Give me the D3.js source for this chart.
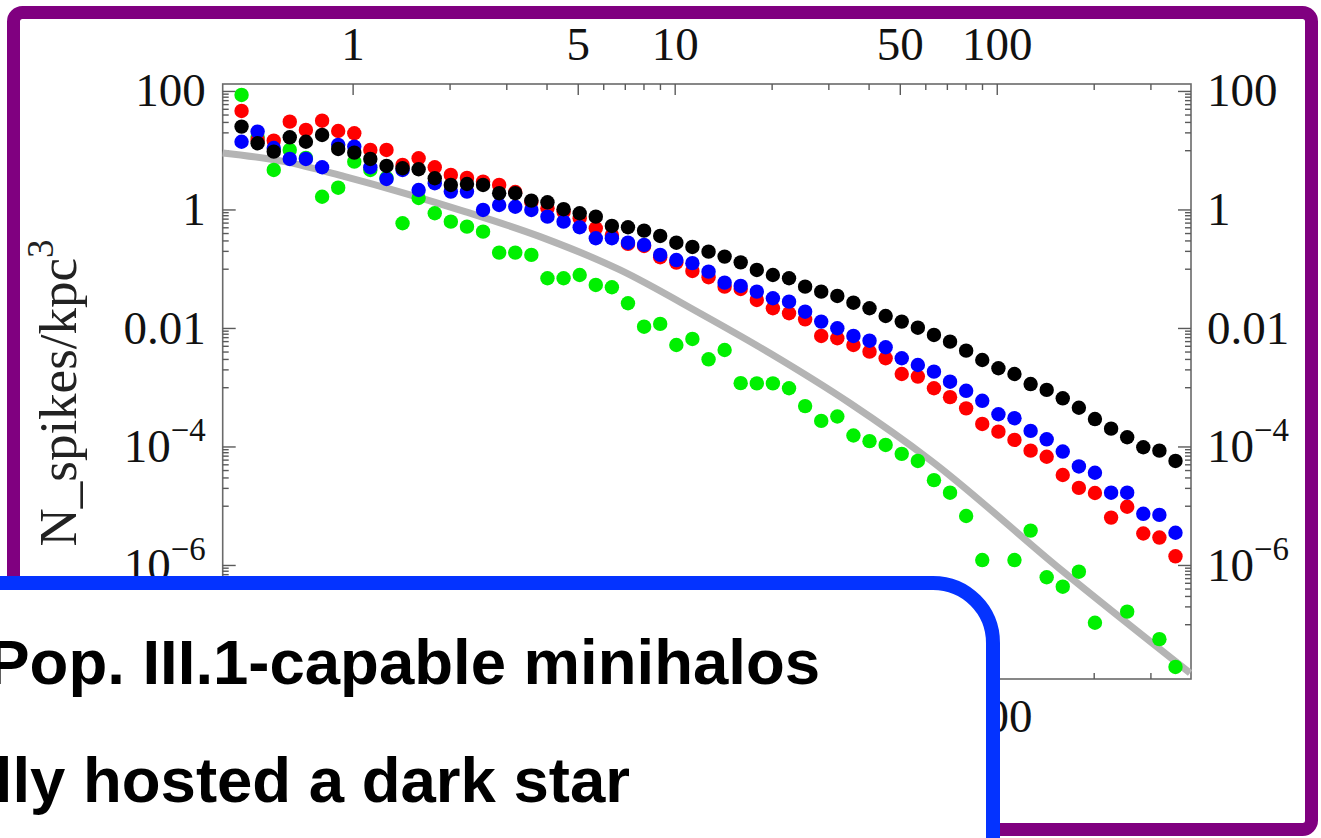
<!DOCTYPE html>
<html><head><meta charset="utf-8">
<script src="https://cdn.jsdelivr.net/npm/d3@7"></script>
<style>html,body{margin:0;padding:0;background:#fff;overflow:hidden}</style>
</head><body>
<svg id="c" width="1321" height="838"></svg>
<script>
// ---- data ----
const xValues = [0.452,0.507,0.569,0.638,0.716,0.804,0.902,1.012,1.135,1.274,1.429,1.603,1.799,2.018,2.265,2.541,2.851,3.199,3.589,4.027,4.519,5.070,5.689,6.383,7.161,8.035,9.016,10.12,11.35,12.74,14.29,16.03,17.99,20.18,22.65,25.41,28.51,31.99,35.89,40.27,45.19,50.70,56.89,63.83,71.61,80.35,90.16,101.2,113.5,127.4,142.9,160.3,179.9,201.8,226.5,254.1,285.1,319.9,358.9];
const blackSeries = [25.0,13.1,9.45,16.5,13.9,18.1,10.5,9.09,7.12,5.42,4.96,4.77,3.36,2.59,2.69,2.59,1.88,1.88,1.41,1.32,1.01,0.863,0.756,0.527,0.501,0.439,0.357,0.275,0.233,0.194,0.160,0.128,0.0953,0.0784,0.069,0.0498,0.041,0.0347,0.0267,0.0215,0.0159,0.0128,0.0101,0.00762,0.00587,0.00414,0.00288,0.00209,0.00167,0.00113,9.0e-4,6.5e-4,4.5e-4,2.9e-4,2.0e-4,1.43e-4,9.7e-5,8.5e-5,5.7e-5];
const redSeries = [46.0,14.9,14.5,30.3,22.0,31.5,21.1,19.3,10.1,10.1,5.64,7.31,5.15,3.82,3.40,2.95,2.59,1.97,1.34,1.05,0.918,0.710,0.482,0.371,0.262,0.242,0.156,0.127,0.0916,0.0717,0.0498,0.0455,0.0297,0.0215,0.0177,0.0140,0.00733,0.0067,0.00516,0.00398,0.00308,0.00167,0.00151,9.6e-4,6.8e-4,4.4e-4,2.4e-4,1.78e-4,1.29e-4,8.5e-5,6.7e-5,3.3e-5,2.0e-5,1.64e-5,6.3e-6,9.6e-6,3.4e-6,2.9e-6,1.40e-6];
const blueSeries = [13.9,20.6,10.9,7.12,7.12,5.15,12.3,11.5,5.15,3.27,4.64,2.13,2.77,2.0,2.0,0.981,1.19,1.11,0.981,0.756,0.622,0.501,0.327,0.327,0.275,0.252,0.171,0.140,0.124,0.0892,0.0582,0.0512,0.041,0.0317,0.0278,0.0188,0.0128,0.00988,0.00733,0.0061,0.00472,0.00308,0.00237,0.00183,0.00124,8.7e-4,5.9e-4,3.5e-4,3.0e-4,1.83e-4,1.32e-4,8.2e-5,4.6e-5,3.6e-5,1.66e-5,1.66e-5,7.3e-6,7.0e-6,3.5e-6];
const greenSeries = [85.6,16.7,4.64,10.1,7.4,1.64,2.33,6.41,4.64,3.40,0.585,1.56,0.863,0.622,0.513,0.422,0.187,0.187,0.171,0.069,0.069,0.0784,0.0532,0.0486,0.0261,0.0105,0.0117,0.00516,0.00652,0.00296,0.00425,0.00117,0.00116,0.00116,9.6e-4,4.8e-4,2.7e-4,3.2e-4,1.53e-4,1.23e-4,1.06e-4,7.5e-5,5.7e-5,2.7e-5,1.66e-5,6.7e-6,1.21e-6,null,1.21e-6,3.8e-6,6.2e-7,4.3e-7,7.7e-7,1.06e-7,null,1.63e-7,null,5.6e-8,1.9e-8];
const curveX = [0.395,0.616,0.946,1.453,2.233,3.817,6.763,11.98,19.77,35.03,62.1,157.2,398.4];
const curveY = [9.0,6.41,3.58,1.875,0.922,0.348,0.0953,0.0177,0.00374,5.36e-4,5.92e-5,8.55e-7,1.50e-8];
const xMajorTicks = [1,5,10,50,100];
const xMajorLabels = ["1","5","10","50","100"];
const xBottomLabelTicks = [100];          // the other bottom labels are hidden behind the callout
const xMinorTicks = [2,3,4,6,7,8,9,20,30,40,60,70,80,90,200,300];
const yMajorTicks = [100,1,0.01,1e-4,1e-6];
const yMajorLabels = [["100",null],["1",null],["0.01",null],["10","\u22124"],["10","\u22126"]];
const yTitle = ["N_spikes/kpc","3"];
const captionLines = ["Pop. III.1-capable minihalos","lly hosted a dark star"];

// ---- layout ----
const svg = d3.select("#c");
const L = 222.7, R = 1191, T = 84, B = 679;
const x = d3.scaleLog().domain([0.395, 401]).range([L, R]);
const y = d3.scaleLog().domain([1.19e-8, 131]).range([B, T]);
const serif = "'Liberation Serif','Times New Roman',serif";
const FS = 47;

// purple slide frame
svg.append("rect").attr("x",13.5).attr("y",12.5).attr("width",1298).attr("height",817)
  .attr("rx",9).attr("fill","#fff").attr("stroke","#800080").attr("stroke-width",13);

const g = svg.append("g");
g.append("rect").attr("x",L).attr("y",T).attr("width",R-L).attr("height",B-T)
  .attr("fill","none").attr("stroke","#6a6a6a").attr("stroke-width",1.6);

const yMinor = [];
yMajorTicks.forEach(m => { for (let j=1;j<=9;j++) { const v = j*m/10; if (v>=1.19e-8 && v<=131) yMinor.push(v); } });

function styleAxis(sel){
  sel.select(".domain").remove();
  sel.selectAll(".tick line").attr("stroke","#5a5a5a").attr("stroke-width",1.4);
  sel.selectAll("text").attr("font-family",serif).attr("font-size",FS).attr("fill","#111");
}
function yLabel(sel){
  sel.selectAll(".tick text").each(function(d){
    const i = yMajorTicks.indexOf(d); const lab = yMajorLabels[i];
    const t = d3.select(this); t.text(null);
    t.append("tspan").text(lab[0]);
    if (lab[1]) t.append("tspan").attr("dy",-21).attr("font-size",FS*0.7).text(lab[1]);
  });
}
const gl = g.append("g").attr("transform",`translate(${L},0)`)
  .call(d3.axisLeft(y).tickValues(yMajorTicks).tickSize(-13).tickPadding(17).tickFormat(()=>"x"));
styleAxis(gl); yLabel(gl);
g.append("g").attr("transform",`translate(${L},0)`)
  .call(d3.axisLeft(y).tickValues(yMinor).tickSize(-6).tickFormat("")).call(styleAxis);
const gr = g.append("g").attr("transform",`translate(${R},0)`)
  .call(d3.axisRight(y).tickValues(yMajorTicks).tickSize(-13).tickPadding(16).tickFormat(()=>"x"));
styleAxis(gr); yLabel(gr);
g.append("g").attr("transform",`translate(${R},0)`)
  .call(d3.axisRight(y).tickValues(yMinor).tickSize(-6).tickFormat("")).call(styleAxis);
const xf = d => xMajorLabels[xMajorTicks.indexOf(d)];
g.append("g").attr("transform",`translate(0,${T})`)
  .call(d3.axisTop(x).tickValues(xMajorTicks).tickSize(-11).tickPadding(24).tickFormat(xf)).call(styleAxis);
g.append("g").attr("transform",`translate(0,${T})`)
  .call(d3.axisTop(x).tickValues(xMinorTicks).tickSize(-6).tickFormat("")).call(styleAxis);
g.append("g").attr("transform",`translate(0,${B})`)
  .call(d3.axisBottom(x).tickValues(xMajorTicks).tickSize(-11).tickPadding(20)
    .tickFormat(d => xBottomLabelTicks.includes(d) ? xf(d) : "")).call(styleAxis);
g.append("g").attr("transform",`translate(0,${B})`)
  .call(d3.axisBottom(x).tickValues(xMinorTicks).tickSize(-6).tickFormat("")).call(styleAxis);

// y title
const yt = g.append("text").attr("transform",`translate(76,393) rotate(-90)`)
  .attr("text-anchor","middle").attr("font-family",serif).attr("font-size",53).attr("fill","#222");
yt.append("tspan").text(yTitle[0]);
yt.append("tspan").attr("dy",-23).attr("font-size",37).text(yTitle[1]);

// grey curve
const line = d3.line().x((d,i)=>x(curveX[i])).y((d,i)=>y(curveY[i])).curve(d3.curveMonotoneX);
g.append("path").attr("d", line(curveX)).attr("fill","none").attr("stroke","#b4b4b4").attr("stroke-width",7);

// dots
const series = [[greenSeries,"#00f000"],[redSeries,"#ff0000"],[blueSeries,"#0000ff"],[blackSeries,"#000000"]];
series.forEach(([vals,col]) => {
  g.append("g").selectAll("circle")
    .data(vals.map((v,i)=>({x:xValues[i],v})).filter(d=>d.v!=null))
    .join("circle").attr("cx",d=>x(d.x)).attr("cy",d=>y(d.v)).attr("r",7.2).attr("fill",col);
});

// blue callout box
svg.append("rect").attr("x",-100).attr("y",583).attr("width",1093).attr("height",400).attr("rx",60)
  .attr("fill","#fff").attr("stroke","#0433ff").attr("stroke-width",14);
const sans = "'Liberation Sans',Arial,Helvetica,sans-serif";
svg.append("text").attr("x",820).attr("y",684).attr("text-anchor","end").attr("font-family",sans)
  .attr("font-weight","bold").attr("font-size",63.5).attr("fill","#000").text(captionLines[0]);
svg.append("text").attr("x",630).attr("y",802).attr("text-anchor","end").attr("font-family",sans)
  .attr("font-weight","bold").attr("font-size",63.5).attr("fill","#000").text(captionLines[1]);
</script>
</body></html>
